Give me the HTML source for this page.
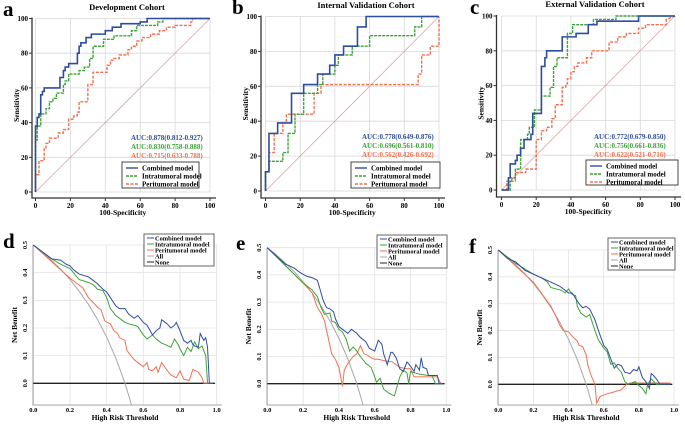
<!DOCTYPE html>
<html><head><meta charset="utf-8"><style>
body{margin:0;background:#fff;}
svg{display:block;font-family:"Liberation Serif",serif;}
</style></head><body>
<svg id="fig" width="685" height="425" viewBox="0 0 685 425" xmlns="http://www.w3.org/2000/svg"></svg>
<script>
// ===== ROC data (100-specificity, sensitivity) =====
const rocA_combined=[[0,0],[0,31],[0,38],[1,38],[1,43],[2,43],[2,45],[3,45],[3,56],[4,56],[4,58],[5,58],[5,60],[14,60],[14,66],[16,66],[16,70],[17,70],[17,72],[19,72],[19,74],[24,74],[24,80],[25,80],[25,84],[26,84],[26,86],[29,86],[29,89],[32,89],[32,91],[40,91],[40,93],[44,93],[44,95],[49,95],[49,97],[60,97],[60,98],[64,98],[64,100],[100,100]];
const rocA_intra=[[0,0],[0,30],[1,30],[1,38],[3,38],[3,45],[6,45],[6,48],[8,48],[8,52],[10,52],[10,54],[12,54],[12,57],[16,57],[16,62],[17,62],[17,64],[19,64],[19,68],[25,68],[25,70],[28,70],[28,72],[31,72],[31,77],[33,77],[33,84],[39,84],[39,88],[45,88],[45,90],[55,90],[55,93],[58,93],[58,96],[70,96],[70,98],[73,98],[73,100],[100,100]];
const rocA_peri=[[0,0],[0,10],[2,10],[2,18],[5,18],[5,25],[6,25],[6,28],[8,28],[8,31],[13,31],[13,34],[16,34],[16,36],[19,36],[19,42],[22,42],[22,44],[24,44],[24,46],[25,46],[25,52],[30,52],[30,62],[33,62],[33,69],[41,69],[41,73],[43,73],[43,76],[45,76],[45,77],[48,77],[48,79],[53,79],[53,82],[55,82],[55,84],[58,84],[58,87],[61,87],[61,89],[66,89],[66,91],[71,91],[71,93],[75,93],[75,95],[80,95],[80,96],[89,96],[89,98],[90,98],[90,100],[100,100]];
const rocB_combined=[[0,0],[0,11],[2,11],[2,33],[7,33],[7,39],[15,39],[15,56],[22,56],[22,61],[30,61],[30,67],[37,67],[37,72],[40,72],[40,78],[45,78],[45,83],[53,83],[53,94],[58,94],[58,100],[100,100]];
const rocB_intra=[[0,0],[0,11],[2,11],[2,17],[10,17],[10,22],[13,22],[13,33],[17,33],[17,44],[22,44],[22,56],[30,56],[30,61],[33,61],[33,67],[40,67],[40,72],[42,72],[42,78],[50,78],[50,83],[60,83],[60,89],[86,89],[86,94],[90,94],[90,100],[100,100]];
const rocB_peri=[[0,0],[0,11],[2,11],[2,22],[5,22],[5,33],[10,33],[10,39],[12,39],[12,44],[28,44],[28,56],[32,56],[32,61],[88,61],[88,67],[90,67],[90,78],[95,78],[95,83],[100,83],[100,100]];
const rocC_combined=[[0,0],[4,0],[4,7],[5,7],[5,15],[8,15],[8,17],[9,17],[9,20],[11,20],[11,24],[13,24],[13,29],[17,29],[17,32],[18,32],[18,44],[23,44],[23,71],[25,71],[25,76],[26,76],[26,80],[35,80],[35,88],[43,88],[43,90],[50,90],[50,95],[55,95],[55,97],[79,97],[79,100],[100,100]];
const rocC_intra=[[0,0],[5,0],[5,5],[6,5],[6,7],[8,7],[8,12],[11,12],[11,29],[15,29],[15,32],[16,32],[16,36],[19,36],[19,46],[23,46],[23,54],[28,54],[28,59],[30,59],[30,71],[32,71],[32,76],[38,76],[38,90],[41,90],[41,95],[53,95],[53,98],[66,98],[66,100],[100,100]];
const rocC_peri=[[0,0],[3,0],[3,5],[8,5],[8,10],[14,10],[14,12],[20,12],[20,29],[23,29],[23,34],[26,34],[26,36],[29,36],[29,41],[31,41],[31,49],[35,49],[35,59],[37,59],[37,61],[38,61],[38,64],[40,64],[40,68],[42,68],[42,71],[44,71],[44,73],[49,73],[49,76],[52,76],[52,80],[62,80],[62,85],[67,85],[67,88],[72,88],[72,90],[79,90],[79,93],[83,93],[83,95],[95,95],[95,98],[100,100]];
const rocTicks=[0,20,40,60,80,100];
const aucA=["AUC:0.878(0.812-0.927)","AUC:0.830(0.758-0.888)","AUC:0.715(0.633-0.788)"];
const aucB=["AUC:0.778(0.649-0.876)","AUC:0.696(0.561-0.810)","AUC:0.562(0.426-0.692)"];
const aucC=["AUC:0.772(0.679-0.850)","AUC:0.756(0.661-0.836)","AUC:0.622(0.521-0.716)"];
// ===== DCA data (threshold, net benefit) =====
const dcaAll=[[0,0.5],[0.05,0.474],[0.1,0.444],[0.15,0.412],[0.2,0.375],[0.25,0.333],[0.3,0.286],[0.35,0.231],[0.4,0.167],[0.45,0.091],[0.5,0],[0.55,-0.111]];
const dcaNone=[[0,0],[0.99,0]];
const dcaD_combined=[[0,.5],[.1,.45],[.15,.445],[.18,.43],[.2,.425],[.22,.41],[.25,.395],[.3,.385],[.32,.375],[.35,.36],[.38,.34],[.4,.33],[.42,.31],[.45,.28],[.47,.27],[.5,.27],[.52,.25],[.55,.235],[.57,.245],[.6,.22],[.62,.21],[.65,.175],[.67,.19],[.69,.2],[.7,.23],[.73,.215],[.75,.2],[.77,.21],[.78,.22],[.8,.19],[.82,.155],[.84,.145],[.86,.155],[.87,.14],[.88,.135],[.9,.13],[.91,.18],[.93,.155],[.94,.165],[.95,.13],[.96,0],[.98,0]];
const dcaD_intra=[[0,.5],[.1,.45],[.15,.43],[.2,.415],[.25,.375],[.3,.365],[.33,.355],[.35,.34],[.38,.335],[.4,.31],[.42,.27],[.45,.245],[.48,.23],[.5,.22],[.52,.215],[.55,.21],[.57,.205],[.6,.175],[.62,.16],[.65,.175],[.67,.16],[.7,.145],[.72,.14],[.75,.13],[.77,.16],[.79,.14],[.8,.125],[.82,.1],[.84,.13],[.86,.115],[.88,.15],[.9,.125],[.92,.135],[.94,.1],[.95,0],[.98,0]];
const dcaD_peri=[[0,.5],[.1,.44],[.2,.38],[.25,.355],[.27,.345],[.3,.31],[.33,.29],[.35,.275],[.37,.265],[.39,.225],[.42,.215],[.44,.19],[.46,.18],[.47,.165],[.5,.155],[.51,.12],[.52,.11],[.55,.085],[.58,.07],[.6,.06],[.62,.075],[.63,.05],[.65,.045],[.67,.06],[.68,.04],[.7,.075],[.72,.055],[.75,.03],[.78,.02],[.8,.045],[.82,.015],[.85,.01],[.87,.05],[.9,.04],[.92,.02],[.93,0],[.98,0]];
const dcaE_combined=[[0,.5],[.1,.44],[.15,.425],[.18,.41],[.22,.395],[.25,.39],[.28,.38],[.3,.335],[.31,.31],[.33,.28],[.35,.275],[.37,.265],[.38,.24],[.4,.21],[.42,.2],[.45,.185],[.47,.2],[.5,.185],[.52,.17],[.55,.155],[.57,.13],[.6,.12],[.62,.16],[.64,.145],[.65,.11],[.67,.07],[.69,.115],[.7,.115],[.72,.095],[.74,.055],[.76,.045],[.78,.08],[.8,.065],[.82,.045],[.83,.07],[.85,.05],[.86,.095],[.87,.06],[.89,.055],[.9,.03],[.95,.03],[.96,0],[.98,0]];
const dcaE_intra=[[0,.5],[.2,.37],[.25,.345],[.28,.32],[.3,.28],[.32,.255],[.35,.26],[.36,.23],[.38,.225],[.4,.2],[.42,.19],[.44,.165],[.46,.12],[.48,.135],[.5,.12],[.52,.1],[.55,.075],[.58,.06],[.6,.025],[.61,.005],[.63,.02],[.65,-.02],[.68,-.035],[.71,-.045],[.74,.025],[.76,.05],[.78,.04],[.79,0],[.8,.045],[.85,.035],[.9,.03],[.92,.03],[.94,0],[.98,0]];
const dcaE_peri=[[0,.5],[.2,.37],[.25,.335],[.28,.28],[.3,.26],[.32,.23],[.34,.17],[.36,.11],[.38,.09],[.4,.06],[.42,-.01],[.43,.05],[.45,.075],[.48,.1],[.5,.11],[.52,.14],[.54,.11],[.56,.105],[.58,.095],[.6,.09],[.62,.09],[.65,.085],[.7,.08],[.74,.06],[.78,.055],[.8,.055],[.82,.025],[.9,.025],[.95,.025],[.97,0],[.98,0]];
const dcaF_combined=[[0,.5],[.05,.47],[.1,.455],[.15,.425],[.2,.41],[.25,.395],[.3,.38],[.35,.365],[.38,.35],[.4,.34],[.42,.34],[.44,.32],[.46,.3],[.48,.285],[.5,.29],[.52,.28],[.55,.24],[.57,.2],[.6,.145],[.62,.13],[.64,.095],[.66,.06],[.68,.075],[.7,.07],[.72,.045],[.75,.04],[.77,.055],[.79,.05],[.8,.065],[.82,.025],[.84,.01],[.86,-.015],[.87,.04],[.88,.035],[.9,.02],[.92,0],[.98,0]];
const dcaF_intra=[[0,.5],[.05,.475],[.1,.45],[.15,.43],[.2,.41],[.25,.395],[.28,.38],[.3,.36],[.33,.355],[.36,.35],[.38,.34],[.4,.355],[.42,.335],[.44,.33],[.45,.29],[.47,.265],[.5,.25],[.52,.26],[.55,.2],[.57,.165],[.6,.135],[.62,.12],[.64,.075],[.66,.08],[.68,.06],[.7,.045],[.72,.01],[.74,0],[.78,.01],[.8,-.005],[.82,-.015],[.84,-.035],[.85,0],[.87,.02],[.9,0],[.98,0]];
const dcaF_peri=[[0,.5],[.1,.44],[.2,.38],[.25,.335],[.3,.29],[.33,.25],[.35,.22],[.37,.2],[.4,.195],[.42,.18],[.45,.16],[.46,.145],[.48,.14],[.5,.11],[.51,.07],[.53,.03],[.55,0],[.56,-.07],[.58,-.045],[.6,-.04],[.62,-.035],[.65,-.03],[.7,-.02],[.73,0],[.75,.005],[.8,.005],[.98,.005]];
const dcaXTicks=[0,0.2,0.4,0.6,0.8,1.0];
const dcaYTicks=[0,0.1,0.2,0.3,0.4,0.5];

const NS="http://www.w3.org/2000/svg";
const svg=document.getElementById('fig');
const BLUE="#2f4da0",GREEN="#3fa33a",ORANGE="#f46f4f";
function mk(tag,attrs,parent){const e=document.createElementNS(NS,tag);for(const k in attrs)e.setAttribute(k,attrs[k]);(parent||svg).appendChild(e);return e;}
function txt(s,attrs,parent){const e=mk('text',attrs,parent);e.textContent=s;return e;}
let clipN=0;

function roc(p){
  const g=mk('g',{});
  
  
  const sx=v=>p.x0+(p.x1-p.x0)*v/100, sy=v=>p.y0+(p.y1-p.y0)*v/100;
  rocTicks.forEach(t=>{
    const gl=mk('line',{x1:sx(t),x2:sx(t),y1:sy(0),y2:sy(100),stroke:'#d8d8d8','stroke-width':0.8},g);
    
    const gh=mk('line',{x1:sx(0),x2:sx(100),y1:sy(t),y2:sy(t),stroke:'#d8d8d8','stroke-width':0.8},g);
    
  });
  const ax=mk('path',{d:`M${p.ax},${sy(100)-1}V${p.ay}H${sx(100)+6}`,stroke:'#333',fill:'none','stroke-width':1.3},g);
  
  rocTicks.forEach(t=>{
    mk('line',{x1:p.ax-3,x2:p.ax,y1:sy(t),y2:sy(t),stroke:'#333'},g);
    mk('line',{x1:sx(t),x2:sx(t),y1:p.ay,y2:p.ay+3,stroke:'#333'},g);
    const yl=txt(String(t),{x:p.ax-4,y:sy(t)+2.5,'font-size':7,'font-weight':'bold','text-anchor':'end'},g);
    
    const xl=txt(String(t),{x:sx(t),y:p.ay+10,'font-size':7,'font-weight':'bold','text-anchor':'middle'},g);
    
  });
  const xt=txt('100-Specificity',{x:(sx(0)+sx(100))/2,y:p.ay+17,'font-size':7.5,'font-weight':'bold','text-anchor':'middle'},g);
  
  const yt=txt('Sensitivity',{x:0,y:0,'font-size':7.5,'font-weight':'bold','text-anchor':'middle',transform:`translate(${p.ax-13},${(sy(0)+sy(100))/2}) rotate(-90)`},g);
  
  const dg=mk('line',{x1:sx(0),y1:sy(0),x2:sx(100),y2:sy(100),stroke:'#d9a3a3','stroke-width':0.8},g);
  
  const series=[[p.peri,ORANGE,'3,1.5','peritumoral-curve'],[p.intra,GREEN,'3,1','intratumoral-curve'],[p.comb,BLUE,'','combined-curve']];
  series.forEach(s=>{
    const pl=mk('polyline',{points:s[0].map(d=>sx(d[0])+','+sy(d[1])).join(' '),fill:'none',stroke:s[1],'stroke-width':s[1]==BLUE?1.6:1.4,'stroke-dasharray':s[2]},g);
    
  });
  const ti=txt(p.title,{x:p.tx,y:p.ty,'font-size':8.5,'font-weight':'bold','text-anchor':'middle'},g);
  
  const lt=txt(p.letter,{x:p.lx,y:p.ly,'font-size':21,'font-weight':'bold'},g);
  
  [BLUE,GREEN,ORANGE].forEach((c,i)=>{
    const a=txt(p.auc[i],{x:p.aucx,y:p.aucy+i*9,'font-size':7,'font-weight':'bold',fill:c},g);
    
  });
  const lg=mk('g',{},g);
  
  mk('rect',{x:p.lgx,y:p.lgy,width:p.lgw,height:p.lgh,fill:'#fff',stroke:'#333','stroke-width':0.9},lg);
  [['Combined model',BLUE,''],['Intratumoral model',GREEN,'3,1'],['Peritumoral model',ORANGE,'3,1.5']].forEach((e,i)=>{
    const yy=p.lgy+6+i*8;
    const en=mk('g',{},lg);
    
    mk('line',{x1:p.lgx+4,x2:p.lgx+16,y1:yy,y2:yy,stroke:e[1],'stroke-width':1.4,'stroke-dasharray':e[2]},en);
    txt(e[0],{x:p.lgx+20,y:yy+2.5,'font-size':7,'font-weight':'bold'},en);
  });
}

function dca(p){
  const g=mk('g',{});
  
  
  const sx=v=>p.x0+(p.x1-p.x0)*v, sy=v=>p.y0+(p.y5-p.y0)*v/0.5;
  const yb=p.yb;
  dcaXTicks.forEach(t=>{
    const gl=mk('line',{x1:sx(t),x2:sx(t),y1:sy(0.5),y2:yb,stroke:'#e2e2e2','stroke-width':0.8},g);
    
    const xl=txt(t.toFixed(1),{x:sx(t),y:yb+7,'font-size':6.5,'font-weight':'bold','text-anchor':'middle'},g);
    
  });
  dcaYTicks.forEach(t=>{
    const gh=mk('line',{x1:sx(0),x2:sx(1),y1:sy(t),y2:sy(t),stroke:'#e2e2e2','stroke-width':0.8},g);
    
    const yl=txt(t.toFixed(1),{x:0,y:0,'font-size':6.5,'font-weight':'bold','text-anchor':'middle',transform:`translate(${p.ax-6},${sy(t)}) rotate(-90)`},g);
    
  });
  const ax=mk('path',{d:`M${p.ax},${sy(0.5)}V${yb}H${sx(1)+5}`,stroke:'#888',fill:'none','stroke-width':0.8},g);
  
  const xt=txt('High Risk Threshold',{x:(sx(0)+sx(1))/2,y:yb+15,'font-size':7.5,'font-weight':'bold','text-anchor':'middle'},g);
  
  const yt=txt('Net Benefit',{x:0,y:0,'font-size':7.5,'font-weight':'bold','text-anchor':'middle',transform:`translate(${p.ax-16},${(sy(0.5)+yb)/2}) rotate(-90)`},g);
  
  const cid='clip'+(clipN++);
  const cp=mk('clipPath',{id:cid},g);
  mk('rect',{x:p.ax,y:sy(0.5)-3,width:sx(1)-p.ax+8,height:yb-sy(0.5)+3},cp);
  const series=[[dcaNone,'#222',1.3,'none-line'],[dcaAll,'#a8a8a8',1,'all-line'],[p.peri,ORANGE,1,'peritumoral-curve'],[p.intra,GREEN,1,'intratumoral-curve'],[p.comb,BLUE,1,'combined-curve']];
  series.forEach(s=>{
    const pl=mk('polyline',{points:s[0].map(d=>sx(d[0])+','+sy(d[1])).join(' '),fill:'none',stroke:s[1],'stroke-width':s[2],'clip-path':`url(#${cid})`},g);
    
  });
  const lt=txt(p.letter,{x:p.lx,y:p.ly,'font-size':21,'font-weight':'bold'},g);
  
  const lg=mk('g',{},g);
  
  mk('rect',{x:p.lgx,y:p.lgy,width:p.lgw,height:p.lgh,fill:'#fff',stroke:'#555','stroke-width':0.9},lg);
  [['Combined model',BLUE],['Intratumoral model',GREEN],['Peritumoral model',ORANGE],['All','#a8a8a8'],['None','#222']].forEach((e,i)=>{
    const yy=p.lgy+4+i*6;
    const en=mk('g',{},lg);
    
    mk('line',{x1:p.lgx+3,x2:p.lgx+10,y1:yy,y2:yy,stroke:e[1],'stroke-width':1},en);
    txt(e[0],{x:p.lgx+11,y:yy+2.3,'font-size':6.4,'font-weight':'bold'},en);
  });
}

roc({name:'roc-development',x0:35.5,x1:210,y0:192,y1:18.5,ax:32,ay:198,title:'Development Cohort',tx:127,ty:10,letter:'a',lx:3,ly:16,
  comb:rocA_combined,intra:rocA_intra,peri:rocA_peri,auc:aucA,aucx:131,aucy:140,lgx:122,lgy:162,lgw:77,lgh:26});
roc({name:'roc-internal',x0:265.5,x1:439,y0:191,y1:16.5,ax:261,ay:198,title:'Internal Validation Cohort',tx:366,ty:8,letter:'b',lx:232,ly:14,
  comb:rocB_combined,intra:rocB_intra,peri:rocB_peri,auc:aucB,aucx:362,aucy:139,lgx:351,lgy:162,lgw:89,lgh:26});
roc({name:'roc-external',x0:501.5,x1:675,y0:190,y1:16,ax:496.5,ay:197,title:'External Validation Cohort',tx:595,ty:7,letter:'c',lx:470,ly:14,
  comb:rocC_combined,intra:rocC_intra,peri:rocC_peri,auc:aucC,aucx:594,aucy:139,lgx:586,lgy:160,lgw:92,lgh:25});
dca({name:'dca-development',x0:33.3,x1:216.7,y0:383.3,y5:245,yb:405,ax:33,letter:'d',lx:3,ly:248,
  comb:dcaD_combined,intra:dcaD_intra,peri:dcaD_peri,lgx:144,lgy:234,lgw:70,lgh:32});
dca({name:'dca-internal',x0:267.3,x1:446.3,y0:383.7,y5:247.7,yb:405,ax:267,letter:'e',lx:236,ly:250,
  comb:dcaE_combined,intra:dcaE_intra,peri:dcaE_peri,lgx:377,lgy:235,lgw:70,lgh:33});
dca({name:'dca-external',x0:498.3,x1:674,y0:384.3,y5:250,yb:405,ax:498,letter:'f',lx:469,ly:253,
  comb:dcaF_combined,intra:dcaF_intra,peri:dcaF_peri,lgx:608,lgy:238,lgw:67,lgh:32});
</script>
</body></html>
